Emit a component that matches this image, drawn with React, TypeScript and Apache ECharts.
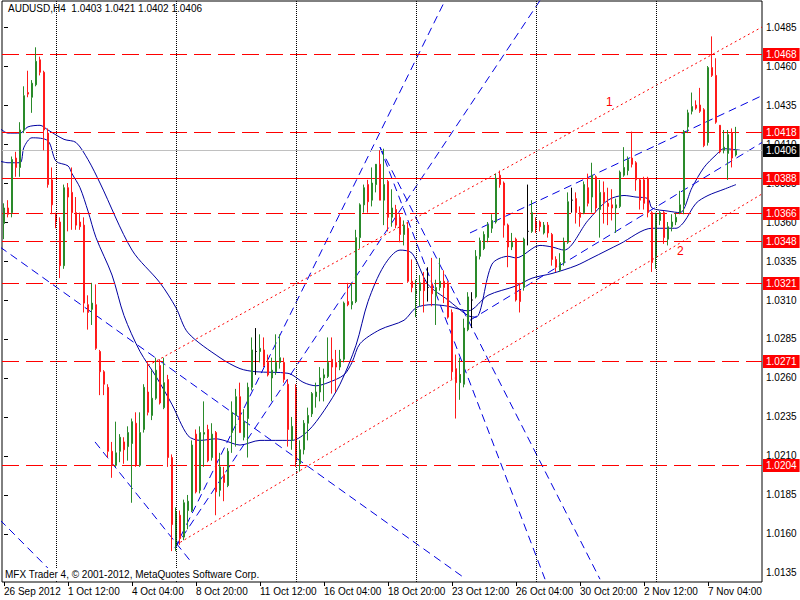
import React, { useEffect, useRef } from "react";
import * as echarts from "echarts";

// ---- data ----
// bar k = 0 is the first visible H4 bar; category labels every 16 bars
const tickLabels = [
  "26 Sep 2012", "1 Oct 12:00", "4 Oct 04:00", "8 Oct 20:00", "11 Oct 12:00", "16 Oct 04:00",
  "18 Oct 20:00", "23 Oct 12:00", "26 Oct 04:00", "30 Oct 20:00", "2 Nov 12:00", "7 Nov 04:00",
];

const opens = [
  1.0359, 1.0369, 1.0366, 1.0401, 1.0395, 1.0419, 1.0443, 1.0440, 1.0448, 1.0464, 1.0456, 1.0417, 1.0387,
  1.0365, 1.0360, 1.0332, 1.0382, 1.0379, 1.0366, 1.0360, 1.0358, 1.0307, 1.0304, 1.0307, 1.0277, 1.0264,
  1.0254, 1.0213, 1.0204, 1.0213, 1.0219, 1.0216, 1.0218, 1.0231, 1.0204, 1.0227, 1.0251, 1.0236, 1.0247,
  1.0268, 1.0241, 1.0259, 1.0209, 1.0153, 1.0172, 1.0158, 1.0175, 1.0175, 1.0224, 1.0188, 1.0224, 1.0227,
  1.0209, 1.0225, 1.0188, 1.0198, 1.0191, 1.0225, 1.0236, 1.0248, 1.0222, 1.0234, 1.0254, 1.0277, 1.0277,
  1.0278, 1.0270, 1.0260, 1.0264, 1.0270, 1.0270, 1.0256, 1.0220, 1.0254, 1.0205, 1.0214, 1.0231, 1.0237,
  1.0248, 1.0251, 1.0260, 1.0261, 1.0272, 1.0270, 1.0267, 1.0272, 1.0309, 1.0307, 1.0309, 1.0350, 1.0371,
  1.0384, 1.0374, 1.0384, 1.0397, 1.0374, 1.0386, 1.0363, 1.0368, 1.0363, 1.0352, 1.0356, 1.0322, 1.0314,
  1.0316, 1.0323, 1.0318, 1.0320, 1.0313, 1.0318, 1.0322, 1.0321, 1.0302, 1.0266, 1.0257, 1.0256, 1.0291,
  1.0310, 1.0312, 1.0338, 1.0343, 1.0350, 1.0356, 1.0360, 1.0390, 1.0385, 1.0358, 1.0344, 1.0349, 1.0316,
  1.0318, 1.0354, 1.0354, 1.0360, 1.0360, 1.0353, 1.0358, 1.0352, 1.0336, 1.0329, 1.0334, 1.0347, 1.0374,
  1.0375, 1.0366, 1.0366, 1.0382, 1.0376, 1.0389, 1.0368, 1.0379, 1.0372, 1.0371, 1.0369, 1.0370, 1.0390,
  1.0393, 1.0401, 1.0398, 1.0387, 1.0387, 1.0388, 1.0366, 1.0338, 1.0361, 1.0366, 1.0349, 1.0357, 1.0360,
  1.0366, 1.0371, 1.0421, 1.0431, 1.0435, 1.0435, 1.0432, 1.0411, 1.0459, 1.0454, 1.0422, 1.0406, 1.0404,
  1.0417, 1.0403,
];
const closes = [
  1.0369, 1.0365, 1.0400, 1.0395, 1.0419, 1.0441, 1.0442, 1.0449, 1.0463, 1.0456, 1.0419, 1.0384, 1.0371,
  1.0360, 1.0332, 1.0382, 1.0376, 1.0366, 1.0358, 1.0357, 1.0308, 1.0302, 1.0308, 1.0279, 1.0264, 1.0256,
  1.0213, 1.0204, 1.0212, 1.0222, 1.0214, 1.0225, 1.0232, 1.0204, 1.0225, 1.0254, 1.0238, 1.0247, 1.0265,
  1.0244, 1.0257, 1.0209, 1.0166, 1.0174, 1.0157, 1.0180, 1.0181, 1.0217, 1.0187, 1.0225, 1.0225, 1.0207,
  1.0224, 1.0187, 1.0203, 1.0193, 1.0213, 1.0238, 1.0248, 1.0225, 1.0232, 1.0254, 1.0278, 1.0277, 1.0279,
  1.0268, 1.0262, 1.0265, 1.0270, 1.0273, 1.0259, 1.0227, 1.0229, 1.0207, 1.0214, 1.0231, 1.0236, 1.0250,
  1.0251, 1.0260, 1.0262, 1.0270, 1.0267, 1.0267, 1.0272, 1.0308, 1.0307, 1.0309, 1.0350, 1.0371, 1.0382,
  1.0373, 1.0385, 1.0397, 1.0374, 1.0384, 1.0363, 1.0369, 1.0358, 1.0352, 1.0358, 1.0322, 1.0318, 1.0316,
  1.0321, 1.0316, 1.0318, 1.0314, 1.0318, 1.0322, 1.0318, 1.0299, 1.0264, 1.0257, 1.0262, 1.0292, 1.0312,
  1.0310, 1.0338, 1.0348, 1.0352, 1.0358, 1.0361, 1.0388, 1.0384, 1.0358, 1.0344, 1.0347, 1.0310, 1.0309,
  1.0349, 1.0354, 1.0366, 1.0356, 1.0357, 1.0358, 1.0353, 1.0336, 1.0331, 1.0334, 1.0347, 1.0373, 1.0374,
  1.0366, 1.0363, 1.0384, 1.0372, 1.0390, 1.0369, 1.0379, 1.0373, 1.0370, 1.0369, 1.0371, 1.0392, 1.0395,
  1.0400, 1.0397, 1.0387, 1.0374, 1.0372, 1.0366, 1.0334, 1.0365, 1.0366, 1.0350, 1.0357, 1.0360, 1.0363,
  1.0371, 1.0418, 1.0430, 1.0434, 1.0433, 1.0431, 1.0409, 1.0459, 1.0454, 1.0424, 1.0405, 1.0408, 1.0416,
  1.0401, 1.0406,
];
const lows = [
  1.0349, 1.0363, 1.0363, 1.0389, 1.0389, 1.0417, 1.0440, 1.0430, 1.0447, 1.0454, 1.0406, 1.0382, 1.0365,
  1.0356, 1.0324, 1.0330, 1.0354, 1.0355, 1.0355, 1.0355, 1.0302, 1.0291, 1.0294, 1.0278, 1.0249, 1.0249,
  1.0209, 1.0196, 1.0203, 1.0206, 1.0205, 1.0207, 1.0180, 1.0203, 1.0203, 1.0225, 1.0236, 1.0233, 1.0246,
  1.0243, 1.0240, 1.0203, 1.0149, 1.0149, 1.0153, 1.0156, 1.0163, 1.0174, 1.0186, 1.0186, 1.0203, 1.0206,
  1.0207, 1.0172, 1.0184, 1.0181, 1.0190, 1.0212, 1.0216, 1.0225, 1.0220, 1.0209, 1.0252, 1.0262, 1.0270,
  1.0267, 1.0261, 1.0245, 1.0262, 1.0266, 1.0257, 1.0216, 1.0214, 1.0203, 1.0200, 1.0211, 1.0220, 1.0235,
  1.0241, 1.0245, 1.0245, 1.0260, 1.0250, 1.0251, 1.0265, 1.0270, 1.0306, 1.0304, 1.0308, 1.0343, 1.0366,
  1.0366, 1.0370, 1.0379, 1.0374, 1.0358, 1.0354, 1.0357, 1.0356, 1.0347, 1.0345, 1.0321, 1.0315, 1.0299,
  1.0306, 1.0302, 1.0309, 1.0306, 1.0294, 1.0316, 1.0308, 1.0298, 1.0259, 1.0234, 1.0246, 1.0254, 1.0290,
  1.0292, 1.0311, 1.0336, 1.0342, 1.0347, 1.0353, 1.0359, 1.0382, 1.0350, 1.0331, 1.0342, 1.0309, 1.0302,
  1.0316, 1.0345, 1.0353, 1.0353, 1.0354, 1.0352, 1.0350, 1.0332, 1.0328, 1.0328, 1.0332, 1.0346, 1.0366,
  1.0359, 1.0357, 1.0365, 1.0370, 1.0366, 1.0366, 1.0350, 1.0359, 1.0358, 1.0361, 1.0353, 1.0369, 1.0389,
  1.0390, 1.0395, 1.0380, 1.0368, 1.0368, 1.0363, 1.0328, 1.0330, 1.0358, 1.0346, 1.0345, 1.0354, 1.0358,
  1.0365, 1.0365, 1.0417, 1.0429, 1.0432, 1.0430, 1.0408, 1.0409, 1.0453, 1.0423, 1.0404, 1.0404, 1.0387,
  1.0395, 1.0402,
];
const highs = [
  1.0372, 1.0374, 1.0402, 1.0405, 1.0424, 1.0447, 1.0457, 1.0451, 1.0472, 1.0466, 1.0457, 1.0420, 1.0395,
  1.0366, 1.0363, 1.0384, 1.0385, 1.0395, 1.0376, 1.0366, 1.0363, 1.0313, 1.0321, 1.0320, 1.0278, 1.0265,
  1.0256, 1.0219, 1.0232, 1.0224, 1.0222, 1.0229, 1.0234, 1.0238, 1.0238, 1.0256, 1.0270, 1.0265, 1.0273,
  1.0272, 1.0273, 1.0262, 1.0211, 1.0177, 1.0175, 1.0182, 1.0185, 1.0220, 1.0227, 1.0229, 1.0245, 1.0230,
  1.0231, 1.0226, 1.0212, 1.0203, 1.0215, 1.0245, 1.0253, 1.0257, 1.0240, 1.0257, 1.0286, 1.0292, 1.0288,
  1.0286, 1.0275, 1.0273, 1.0288, 1.0288, 1.0273, 1.0259, 1.0235, 1.0256, 1.0220, 1.0233, 1.0241, 1.0251,
  1.0257, 1.0267, 1.0266, 1.0286, 1.0286, 1.0278, 1.0278, 1.0309, 1.0321, 1.0321, 1.0355, 1.0372, 1.0384,
  1.0387, 1.0395, 1.0395, 1.0406, 1.0407, 1.0387, 1.0381, 1.0371, 1.0365, 1.0361, 1.0360, 1.0336, 1.0323,
  1.0326, 1.0328, 1.0331, 1.0337, 1.0323, 1.0337, 1.0329, 1.0322, 1.0304, 1.0275, 1.0273, 1.0298, 1.0315,
  1.0315, 1.0342, 1.0350, 1.0354, 1.0360, 1.0365, 1.0391, 1.0393, 1.0386, 1.0359, 1.0353, 1.0350, 1.0321,
  1.0350, 1.0384, 1.0374, 1.0363, 1.0361, 1.0360, 1.0360, 1.0353, 1.0338, 1.0340, 1.0350, 1.0379, 1.0382,
  1.0379, 1.0370, 1.0386, 1.0391, 1.0398, 1.0390, 1.0387, 1.0386, 1.0382, 1.0381, 1.0375, 1.0393, 1.0408,
  1.0402, 1.0418, 1.0399, 1.0388, 1.0389, 1.0389, 1.0367, 1.0366, 1.0367, 1.0367, 1.0360, 1.0365, 1.0366,
  1.0380, 1.0419, 1.0432, 1.0443, 1.0438, 1.0446, 1.0433, 1.0460, 1.0479, 1.0465, 1.0419, 1.0419, 1.0419,
  1.0420, 1.0421,
];

// horizontal levels
const dashedLevels = [1.0468, 1.0418, 1.0366, 1.0348, 1.0321, 1.0271, 1.0204];
const solidLevel = 1.0388;
const currentPrice = 1.0406;
const yTicks = [1.0485, 1.046, 1.0435, 1.041, 1.0385, 1.036, 1.0335, 1.031, 1.0285, 1.026, 1.0235, 1.021, 1.0185, 1.016, 1.0135];

// week separators (bar index)
const separators = [13, 43, 73, 103, 133, 163];

// moving averages sampled [bar, price]
const maSlow = [
  [-1, 1.0420], [1, 1.0417], [4, 1.0417], [6, 1.0421], [9, 1.0422], [11, 1.0419], [15, 1.0413],
  [18, 1.0411], [21, 1.0400], [24, 1.0385], [32, 1.0342], [39, 1.0321], [43, 1.0305], [46, 1.0289],
  [54, 1.0273], [59, 1.0266], [63, 1.0264], [71, 1.0263], [75, 1.0257], [78, 1.0255], [81, 1.0257],
  [85, 1.0262], [87, 1.0270], [89, 1.0282], [94, 1.0291], [100, 1.0297], [103, 1.0305], [107, 1.0307],
  [111, 1.0306], [116, 1.0303], [121, 1.0313], [128, 1.0319], [132, 1.0324], [137, 1.0327], [143, 1.0332],
  [147, 1.0337], [154, 1.0346], [162, 1.0356], [166, 1.0356], [168, 1.0356], [170, 1.0360],
  [173, 1.0372], [176, 1.0377], [180, 1.0381], [183, 1.0384],
];
const maFast = [
  [-1, 1.0399], [1, 1.0398], [4, 1.0398], [5, 1.0408], [7, 1.0414], [11, 1.0412], [13, 1.0399],
  [16, 1.0396], [17, 1.0391], [19, 1.0382], [21, 1.0367], [23, 1.0350], [27, 1.0326], [30, 1.0300],
  [34, 1.0277], [38, 1.0261], [42, 1.0243], [46, 1.0223], [49, 1.0220], [53, 1.0221], [55, 1.0220],
  [59, 1.0217], [64, 1.0220], [69, 1.0220], [72, 1.0220], [76, 1.0226], [80, 1.0239], [84, 1.0256],
  [88, 1.0281], [91, 1.0309], [95, 1.0332], [99, 1.0342], [102, 1.0340], [106, 1.0320], [111, 1.0310],
  [116, 1.0300], [118, 1.0299], [122, 1.0333], [126, 1.0338], [128, 1.0337], [134, 1.0345], [137, 1.0344],
  [140, 1.0342], [146, 1.0361], [151, 1.0374], [155, 1.0377], [158, 1.0376], [161, 1.0375],
  [162, 1.0369], [166, 1.0367], [169, 1.0366], [172, 1.0382], [175, 1.0395], [178, 1.0403],
  [180, 1.0407], [184, 1.0406],
];

// red dotted trend lines [bar, price]
const trend1 = [[36, 1.0268], [189.5, 1.0485]];
const trend2 = [[43, 1.0153], [189.5, 1.0378]];
// blue dashed trend / fan lines [bar, price]
const blueLines = [
  [[-1, 1.0344], [115, 1.0132]],
  [[-1, 1.0169], [14.5, 1.0129]],
  [[22.75, 1.0219], [46.5, 1.0143]],
  [[42.75, 1.0151], [134, 1.0502]],
  [[42.75, 1.0151], [110.25, 1.0502]],
  [[94, 1.0408], [135.25, 1.0131]],
  [[94, 1.0408], [149, 1.0131]],
  [[116.5, 1.0297], [189.5, 1.0411]],
  [[116.5, 1.0353], [189.5, 1.0441]],
];

const NCAT = 190;
const FONT = "Liberation Sans";

export default function App() {
  const ref = useRef<HTMLDivElement>(null);
  useEffect(() => {
    if (!ref.current) return;
    const chart = echarts.init(ref.current, undefined, { renderer: "svg" });
    const cats = Array.from({ length: NCAT }, (_, k) => String(k));
    const candles = opens.map((o, k) => [o, closes[k], lows[k], highs[k]]);

    const lineSeries = (data: number[][], color: string, type: any, z = 2) => ({
      type: "line",
      xAxisIndex: 1,
      data,
      symbol: "none",
      clip: true,
      silent: true,
      lineStyle: { color, type, width: 1 },
      z,
    });

    // horizontal levels: [price, style index]; style 0 = red dashed, 1 = red solid, 2 = current price
    const levelData = [
      ...dashedLevels.map((v) => [0, v, 0]),
      [0, solidLevel, 1],
      [0, currentPrice, 2],
    ];
    const levelStyles = [
      { stroke: "#ff0000", dash: [17, 7], box: "#ff0000" },
      { stroke: "#ff0000", dash: null, box: "#ff0000" },
      { stroke: "#c0c0c0", dash: null, box: "#000000" },
    ];

    const option: any = {
      animation: false,
      backgroundColor: "#fff",
      grid: { left: 2, right: 38, top: 1, bottom: 18, show: true, borderColor: "#000", borderWidth: 1 },
      xAxis: [
        {
          type: "category",
          data: cats,
          boundaryGap: true,
          axisLine: { show: false },
          axisTick: {
            show: true,
            length: 4,
            lineStyle: { color: "#000" },
            alignWithLabel: true,
            interval: (idx: number) => idx % 16 === 0,
          },
          axisLabel: {
            interval: (idx: number) => idx % 16 === 0,
            formatter: (v: string) => tickLabels[Number(v) / 16] ?? "",
            align: "left",
            margin: 4,
            color: "#000",
            fontFamily: FONT,
            fontSize: 10,
          },
          splitLine: { show: false },
        },
        { type: "value", min: -0.5, max: NCAT - 0.5, show: false },
      ],
      yAxis: {
        type: "value",
        position: "right",
        min: 1.01292,
        max: 1.05017,
        splitLine: { show: false },
        axisLine: { show: false },
        axisTick: { show: true, length: 4, customValues: yTicks, lineStyle: { color: "#000" } },
        axisLabel: {
          customValues: yTicks,
          formatter: (v: number) => v.toFixed(4),
          color: "#000",
          fontFamily: FONT,
          fontSize: 10,
          margin: 4,
        },
      },
      series: [
        {
          type: "candlestick",
          data: candles,
          barWidth: 2,
          itemStyle: {
            color: "#2a8a2a",
            color0: "#ff1a1a",
            borderColor: "#2a8a2a",
            borderColor0: "#ff1a1a",
            borderColorDoji: "#000",
            borderWidth: 1,
          },
          z: 4,
        },
        {
          type: "custom",
          xAxisIndex: 1,
          data: levelData,
          clip: false,
          silent: true,
          z: 3,
          renderItem: (params: any, api: any) => {
            const v = api.value(1);
            const st = levelStyles[api.value(2)];
            const cs = params.coordSys;
            const y = Math.round(api.coord([0, v])[1]) + 0.5;
            return {
              type: "group",
              children: [
                {
                  type: "line",
                  shape: { x1: cs.x, y1: y, x2: cs.x + cs.width, y2: y },
                  style: { stroke: st.stroke, lineWidth: 1, lineDash: st.dash || undefined },
                },
                {
                  type: "text",
                  x: cs.x + cs.width + 1,
                  y: y,
                  style: {
                    text: v.toFixed(4),
                    fill: "#fff",
                    backgroundColor: st.box,
                    padding: [2, 3, 1, 3],
                    font: `10px "${FONT}"`,
                    verticalAlign: "middle",
                    align: "left",
                  },
                  z2: 10,
                },
              ],
            };
          },
        },
        // week separators
        {
          type: "line",
          xAxisIndex: 1,
          data: [[0, 1.03]],
          symbol: "none",
          silent: true,
          lineStyle: { opacity: 0 },
          markLine: {
            symbol: "none",
            silent: true,
            label: { show: false },
            lineStyle: { color: "#000", type: "dotted", width: 1 },
            data: separators.map((s) => ({ xAxis: s })),
          },
          z: 1,
        },
        { ...lineSeries(maSlow, "#0000a0", "solid"), smooth: 0.3 },
        { ...lineSeries(maFast, "#0000a0", "solid"), smooth: 0.3 },
        lineSeries(trend1, "#ff0000", [2, 3]),
        lineSeries(trend2, "#ff0000", [2, 3]),
        ...blueLines.map((seg) => lineSeries(seg, "#0000e0", [8, 5])),
      ],
      graphic: [
        {
          type: "text",
          x: 8,
          y: 3,
          style: { text: "AUDUSD,H4  1.0403 1.0421 1.0402 1.0406", fill: "#000", font: `10px "${FONT}"` },
          z: 20,
        },
        {
          type: "rect",
          shape: { x: 3, y: 568, width: 285, height: 13 },
          style: { fill: "#fff" },
          z: 10,
        },
        {
          type: "text",
          x: 5,
          y: 569,
          style: { text: "MFX Trader 4, © 2001-2012, MetaQuotes Software Corp.", fill: "#000", font: `10px "${FONT}"` },
          z: 11,
        },
        { type: "text", x: 606, y: 96, style: { text: "1", fill: "#ff0000", font: `12px "${FONT}"` }, z: 20 },
        { type: "text", x: 677, y: 245, style: { text: "2", fill: "#ff0000", font: `12px "${FONT}"` }, z: 20 },
      ],
    };
    chart.setOption(option);
    return () => chart.dispose();
  }, []);
  return <div ref={ref} style={{ position: "fixed", left: 0, top: 0, width: 800, height: 600 }} />;
}
